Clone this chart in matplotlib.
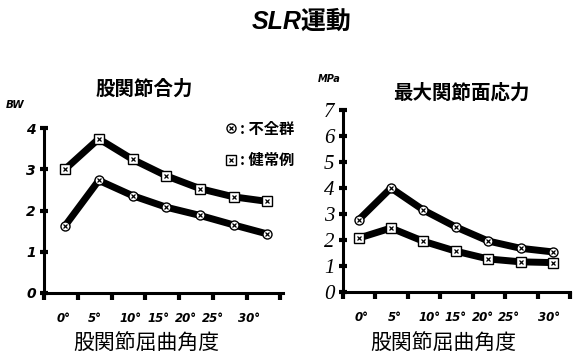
import numpy as np
import matplotlib
matplotlib.use("Agg")
import matplotlib.pyplot as plt
from matplotlib.font_manager import FontProperties

# hip flexion angle (deg)
angles = [0, 5, 10, 15, 20, 25, 30]
angle_labels = ["0°", "5°", "10°", "15°", "20°", "25°", "30°"]

# joint resultant force (BW)
force_patient = [1.63, 2.73, 2.36, 2.08, 1.88, 1.65, 1.43]
force_healthy = [3.00, 3.74, 3.24, 2.84, 2.53, 2.33, 2.22]

# max joint surface stress (MPa)
stress_patient = [2.77, 4.00, 3.15, 2.50, 1.96, 1.68, 1.54]
stress_healthy = [2.07, 2.46, 1.95, 1.57, 1.27, 1.16, 1.13]

CJK = ["Noto Sans CJK JP", "DejaVu Sans"]
NUM = ["DejaVu Sans"]

fig = plt.figure(figsize=(5.77, 3.58), dpi=100)
fig.patch.set_facecolor("white")

fig.text(0.522, 0.938, "SLR運動", ha="center", va="center", fontsize=18,
         fontweight="bold", fontstyle="italic",
         family=["Liberation Sans", "Noto Sans CJK JP"])

ax1 = fig.add_axes([44/577, 65/358, 239/577, 165/358])
ax2 = fig.add_axes([343/577, 66/358, 227/577, 182/358])


def draw_series(ax, x, y, marker):
    ax.plot(x, y, color="black", lw=5, solid_joinstyle="round",
            solid_capstyle="round", zorder=2)
    mk, = ax.plot(x, y, ls="none", marker=marker, ms=6.5, mfc="white",
                  mec="black", mew=1.0, zorder=3)
    cross, = ax.plot(x, y, ls="none", marker="x", ms=2.5, mec="black",
                     mew=0.9, zorder=4)
    return (mk, cross)


def style_axes(ax, xlim, tick0, label_pos, ylim, ytick_font, ytick_size):
    for side in ("top", "right"):
        ax.spines[side].set_visible(False)
    for side in ("left", "bottom"):
        ax.spines[side].set_linewidth(2.2)
    ax.set_xlim(*xlim)
    ax.set_ylim(*ylim)
    ax.set_xticks(np.arange(8) * 5 + tick0)
    ax.set_xticks(label_pos, angle_labels, minor=True)
    ax.tick_params(axis="x", which="major", direction="out", length=5,
                   width=3, labelbottom=False)
    ax.tick_params(axis="x", which="minor", length=0, pad=14)
    for t in ax.get_xticklabels(minor=True):
        t.set_fontproperties(FontProperties(family=NUM, size=8.5,
                                            weight="bold", style="italic"))
    ax.set_yticks(range(ylim[0], ylim[1] + 1))
    ax.tick_params(axis="y", direction="inout", length=6, width=3, pad=3)
    for t in ax.get_yticklabels():
        t.set_fontproperties(ytick_font)
        t.set_fontsize(ytick_size)
    ax.set_facecolor("none")


# left panel: joint resultant force
h_pat = draw_series(ax1, angles, force_patient, "o")
h_hea = draw_series(ax1, angles, force_healthy, "s")
style_axes(ax1, (-3.12, 32.3), -3.1,
           [-0.15, 4.45, 9.64, 13.9, 17.95, 21.96, 27.3], (0, 4),
           FontProperties(family=NUM, weight="bold", style="italic"), 10)
ax1.set_title("股関節合力", family=CJK, fontsize=14, fontweight="bold", pad=0,
              x=0.42, y=1.2)
ax1.text(-0.12, 1.14, "BW", transform=ax1.transAxes, ha="center",
         va="center", fontsize=7.5, fontweight="bold", fontstyle="italic",
         family=NUM)
ax1.set_xlabel("股関節屈曲角度", family=CJK, fontsize=15)
ax1.xaxis.set_label_coords(0.43, -0.245)

ax1.legend([h_pat, h_hea], [": 不全群", ": 健常例"],
           loc="upper left", bbox_to_anchor=(212/577, 1 - 107/358),
           bbox_transform=fig.transFigure, frameon=False,
           handlelength=0.7, handletextpad=0.2, labelspacing=1.0,
           prop=FontProperties(family=CJK, size=11, weight="bold"))

# right panel: max joint surface stress
draw_series(ax2, angles, stress_patient, "o")
draw_series(ax2, angles, stress_healthy, "s")
style_axes(ax2, (-2.4, 32.6), -2.4,
           [0.54, 5.6, 11.0, 15.0, 19.2, 23.2, 29.3], (0, 7),
           FontProperties(family=["Liberation Serif"], style="italic"), 15)
ax2.set_title("最大関節面応力", family=CJK, fontsize=14, fontweight="bold",
              pad=0, x=0.52, y=1.06)
ax2.text(-0.06, 1.17, "MPa", transform=ax2.transAxes, ha="center",
         va="center", fontsize=7, fontweight="bold", fontstyle="italic",
         family=NUM)
ax2.set_xlabel("股関節屈曲角度", family=CJK, fontsize=15)
ax2.xaxis.set_label_coords(0.44, -0.225)

fig.savefig("out.png", dpi=100, facecolor="white")
